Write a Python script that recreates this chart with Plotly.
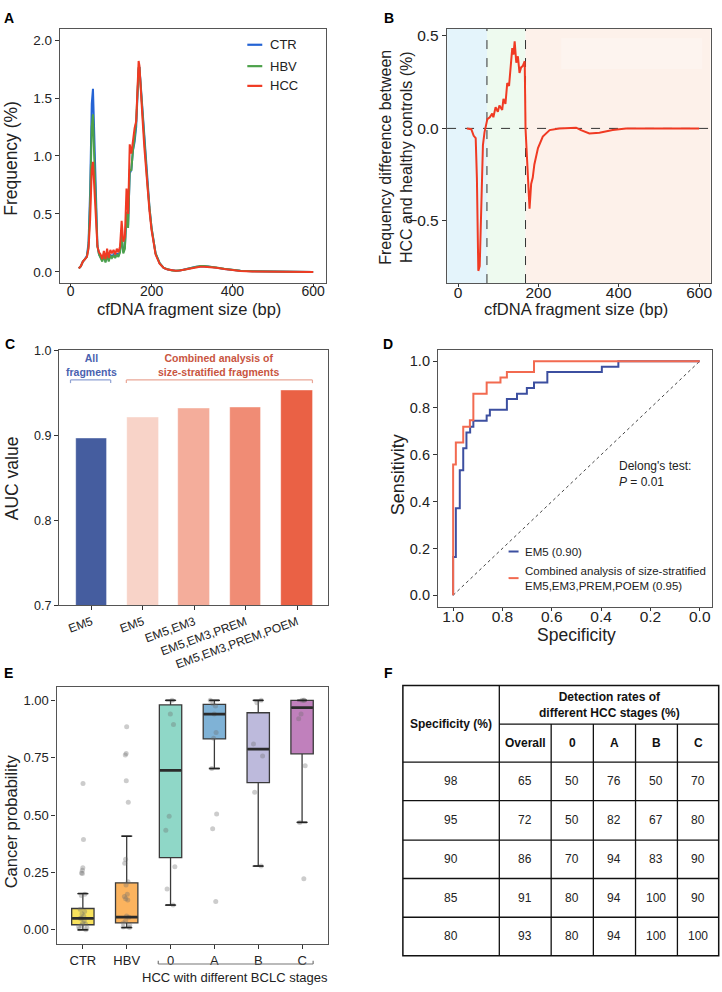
import plotly.graph_objects as go

W, H = 722, 992
FONT = "Liberation Sans, Arial, Helvetica, sans-serif"

# ---------------- DATA ----------------
# Panel A: fragment size distributions (%)
size_bp = [20, 25, 30, 35, 40, 44, 48, 52, 55, 58, 62, 66, 70, 74, 78, 82, 86, 90, 94, 98,
           102, 106, 110, 114, 118, 122, 126, 130, 134, 138, 142, 146, 150, 154, 158, 162, 166, 168, 170, 174,
           178, 182, 186, 190, 195, 200, 210, 220, 230, 240, 250, 260, 270, 280, 290, 300, 310, 320, 330, 340,
           350, 360, 380, 400, 420, 450, 500, 550, 600]
freq_ctr = [0.03, 0.05, 0.09, 0.11, 0.14, 0.25, 0.70, 1.45, 1.58, 1.15, 0.55, 0.23, 0.15, 0.12, 0.10, 0.15, 0.09, 0.16, 0.10, 0.15,
            0.13, 0.15, 0.13, 0.16, 0.14, 0.18, 0.30, 0.17, 0.22, 0.48, 0.40, 0.85, 0.88, 1.05, 1.12, 1.25, 1.62, 1.75, 1.77, 1.58,
            1.35, 1.13, 0.92, 0.75, 0.55, 0.38, 0.16, 0.075, 0.035, 0.02, 0.012, 0.01, 0.012, 0.018, 0.027, 0.036, 0.044, 0.048, 0.048, 0.046,
            0.043, 0.037, 0.026, 0.016, 0.01, 0.005, 0.002, 0.001, 0.0]
freq_hbv = [0.03, 0.05, 0.09, 0.11, 0.13, 0.22, 0.60, 1.25, 1.36, 1.00, 0.50, 0.22, 0.15, 0.12, 0.09, 0.14, 0.08, 0.15, 0.09, 0.14,
            0.12, 0.14, 0.12, 0.15, 0.13, 0.17, 0.32, 0.16, 0.20, 0.52, 0.38, 0.88, 0.88, 1.05, 1.15, 1.30, 1.65, 1.76, 1.76, 1.55,
            1.33, 1.12, 0.92, 0.75, 0.55, 0.38, 0.16, 0.075, 0.035, 0.02, 0.012, 0.01, 0.012, 0.018, 0.028, 0.037, 0.045, 0.05, 0.05, 0.048,
            0.044, 0.038, 0.027, 0.016, 0.01, 0.005, 0.002, 0.001, 0.0]
freq_hcc = [0.03, 0.05, 0.09, 0.11, 0.13, 0.20, 0.45, 0.88, 0.95, 0.75, 0.42, 0.22, 0.17, 0.15, 0.11, 0.18, 0.11, 0.20, 0.12, 0.19,
            0.16, 0.19, 0.15, 0.20, 0.17, 0.22, 0.44, 0.26, 0.30, 0.72, 0.50, 1.10, 1.02, 1.15, 1.24, 1.30, 1.70, 1.82, 1.78, 1.50,
            1.30, 1.08, 0.88, 0.72, 0.52, 0.36, 0.15, 0.07, 0.035, 0.02, 0.012, 0.01, 0.012, 0.018, 0.027, 0.035, 0.042, 0.045, 0.045, 0.043,
            0.04, 0.035, 0.025, 0.015, 0.009, 0.004, 0.002, 0.001, 0.0]
groups_a = ["CTR", "HBV", "HCC"]

# Panel B: frequency difference HCC - controls (%)
diff_bp = [22, 33, 39, 44, 47, 50.5, 54, 58, 62, 66, 69, 73, 79, 85, 88, 93.5, 99, 103, 110, 113,
           118, 122.5, 127, 130, 133, 135, 138, 141, 145, 149, 153, 157, 161, 166, 168, 174, 178, 182, 186, 190,
           199, 211, 228, 252, 294, 306, 327, 352, 385, 418, 600]
diff_val = [0.0, -0.004, -0.04, -0.053, -0.27, -0.77, -0.745, -0.44, -0.09, -0.02, 0.018, 0.05, 0.06, 0.08, 0.06, 0.115, 0.09, 0.124, 0.10, 0.16,
            0.133, 0.245, 0.23, 0.30, 0.363, 0.434, 0.399, 0.47, 0.355, 0.39, 0.30, 0.33, 0.337, 0.363, 0.0, -0.27, -0.434, -0.30, -0.266, -0.195,
            -0.106, -0.044, -0.009, 0.0, 0.004, -0.009, -0.027, -0.023, -0.009, 0.0, 0.0]
region_bounds = [72, 168]

# Panel C: AUC values
auc_labels = ["EM5", "EM5", "EM5,EM3", "EM5,EM3,PREM", "EM5,EM3,PREM,POEM"]
auc_values = [0.896, 0.921, 0.932, 0.933, 0.953]

# Panel D: ROC curves (specificity, sensitivity)
roc_em5_spec = [1.0, 0.989, 0.973, 0.959, 0.946, 0.931, 0.918, 0.864, 0.851, 0.782, 0.741, 0.701, 0.672, 0.618, 0.397, 0.330, 0.0]
roc_em5_sens = [0.0, 0.163, 0.372, 0.534, 0.628, 0.695, 0.720, 0.745, 0.768, 0.792, 0.838, 0.861, 0.885, 0.909, 0.954, 0.976, 1.0]
roc_comb_spec = [1.0, 0.989, 0.959, 0.932, 0.918, 0.864, 0.808, 0.782, 0.672, 0.0]
roc_comb_sens = [0.0, 0.559, 0.652, 0.720, 0.747, 0.861, 0.909, 0.930, 0.954, 1.0]
diag_x = [1.0, 0.0]
diag_y = [0.0, 1.0]

# Panel E: cancer probability boxplots
e_groups = ["CTR", "HBV", "0", "A", "B", "C"]
e_q1 = [0.022, 0.030, 0.315, 0.832, 0.641, 0.767]
e_median = [0.050, 0.055, 0.695, 0.940, 0.787, 0.968]
e_q3 = [0.093, 0.205, 0.980, 0.982, 0.946, 1.000]
e_low = [0.000, 0.010, 0.108, 0.703, 0.278, 0.468]
e_high = [0.158, 0.408, 1.000, 1.000, 1.000, 1.000]
e_points = [
    [0.638, 0.394, 0.27, 0.26, 0.248, 0.245, 0.155, 0.15, 0.09, 0.08, 0.07, 0.06, 0.05, 0.05, 0.04, 0.03, 0.025, 0.02, 0.015, 0.01, 0.005, 0.0],
    [0.885, 0.768, 0.762, 0.65, 0.556, 0.308, 0.29, 0.21, 0.195, 0.155, 0.145, 0.135, 0.13, 0.06, 0.055, 0.04, 0.03, 0.02, 0.012, 0.01],
    [1.0, 0.94, 0.895, 0.495, 0.434, 0.275, 0.178, 0.108],
    [1.0, 0.985, 0.975, 0.94, 0.86, 0.835, 0.703, 0.505, 0.44, 0.123],
    [1.0, 0.99, 0.81, 0.757, 0.60, 0.278],
    [1.0, 1.0, 1.0, 0.94, 0.92, 0.715, 0.468, 0.223],
]

# Panel F: table
tbl_spec = ["98", "95", "90", "85", "80"]
tbl_overall = [65, 72, 86, 91, 93]
tbl_s0 = [50, 50, 70, 80, 80]
tbl_sA = [76, 82, 94, 94, 94]
tbl_sB = [50, 67, 83, 100, 100]
tbl_sC = [70, 80, 90, 90, 100]
tbl_cols = ["Overall", "0", "A", "B", "C"]

# ---------------- helpers ----------------
def fx(p):
    return p / W


def fy(p):
    return 1 - p / H


AX = dict(showline=True, mirror=True, linecolor="#555555", linewidth=1.4, ticks="outside",
          ticklen=4, tickwidth=1, tickcolor="#333333", showgrid=False, zeroline=False,
          tickfont=dict(family=FONT, color="#222222"))

fig = go.Figure()

# ---- Panel A ----
colors_a = ["#2463d4", "#4ca14a", "#f03a23"]
for name, vals, col in zip(groups_a, [freq_ctr, freq_hbv, freq_hcc], colors_a):
    fig.add_trace(go.Scatter(x=size_bp, y=vals, mode="lines", name=name,
                             line=dict(color=col, width=2), xaxis="x", yaxis="y", showlegend=False))

# ---- Panel B ----
fig.add_trace(go.Scatter(x=diff_bp, y=diff_val, mode="lines", line=dict(color="#f03a23", width=2),
                         xaxis="x2", yaxis="y2", showlegend=False))

# ---- Panel C ----
bar_colors = ["#455d9f", "#f8d3c8", "#f4ad9b", "#f08c75", "#ea6145"]
fig.add_trace(go.Bar(x=list(range(len(auc_values))), y=auc_values, width=0.615,
                     marker=dict(color=bar_colors, line=dict(color="rgba(255,255,255,0.55)", width=1)),
                     xaxis="x3", yaxis="y3", showlegend=False))

# ---- Panel D ----
fig.add_trace(go.Scatter(x=diag_x, y=diag_y, mode="lines", line=dict(color="#444444", width=1, dash="dot"),
                         xaxis="x4", yaxis="y4", showlegend=False))
fig.add_trace(go.Scatter(x=roc_em5_spec, y=roc_em5_sens, mode="lines", line=dict(color="#3c4fa0", width=2, shape="vh"),
                         xaxis="x4", yaxis="y4", showlegend=False))
fig.add_trace(go.Scatter(x=roc_comb_spec, y=roc_comb_sens, mode="lines", line=dict(color="#f26a50", width=2, shape="vh"),
                         xaxis="x4", yaxis="y4", showlegend=False))

# ---- Panel E ----
e_colors = ["#f8e25d", "#fbb35e", "#8fd7c7", "#7fb2d6", "#bdbadc", "#c080bc"]
BW = 0.51
for i, g in enumerate(e_groups):
    fig.add_trace(go.Box(x=[i], q1=[e_q1[i]], median=[e_median[i]], q3=[e_q3[i]],
                         lowerfence=[e_low[i]], upperfence=[e_high[i]], width=BW,
                         fillcolor=e_colors[i], line=dict(color="#3a3a3a", width=1.3),
                         boxpoints=False, xaxis="x5", yaxis="y5", showlegend=False, name=g))
for i, g in enumerate(e_groups):
    fig.add_trace(go.Box(x=[i] * len(e_points[i]), y=e_points[i], width=BW, boxpoints="all", jitter=0.5,
                         pointpos=0, fillcolor="rgba(0,0,0,0)", line=dict(color="rgba(0,0,0,0)", width=0),
                         marker=dict(color="rgba(110,110,110,0.35)", size=5),
                         xaxis="x5", yaxis="y5", showlegend=False, name=g))
cap_x, cap_y, med_x, med_y = [], [], [], []
for i in range(len(e_groups)):
    for v in (e_low[i], e_high[i]):
        cap_x += [i - 0.11, i + 0.11, None]
        cap_y += [v, v, None]
    med_x += [i - BW / 2 + 0.01, i + BW / 2 - 0.01, None]
    med_y += [e_median[i], e_median[i], None]
fig.add_trace(go.Scatter(x=cap_x, y=cap_y, mode="lines", line=dict(color="#222222", width=1.6),
                         xaxis="x5", yaxis="y5", showlegend=False))
fig.add_trace(go.Scatter(x=med_x, y=med_y, mode="lines", line=dict(color="#2b2b2b", width=2.8),
                         xaxis="x5", yaxis="y5", showlegend=False))

# ---------------- layout ----------------
def ax(**kw):
    d = dict(AX)
    tf = dict(AX["tickfont"])
    if "tfs" in kw:
        tf["size"] = kw.pop("tfs")
    d["tickfont"] = tf
    d.update(kw)
    return d


layout = dict(
    width=W, height=H, margin=dict(l=0, r=0, t=0, b=0), paper_bgcolor="white", plot_bgcolor="white",
    font=dict(family=FONT, color="#222222"), showlegend=False, bargap=0,
    xaxis=ax(domain=[fx(60), fx(327)], anchor="y", range=[-27, 632], tickvals=[0, 200, 400, 600], tfs=14,
             ticklen=3, ticklabelstandoff=-8),
    yaxis=ax(domain=[fy(280), fy(22)], anchor="x", range=[-0.096, 2.098], tickvals=[0, 0.5, 1, 1.5, 2],
             tickformat=".1f", tfs=13.5),
    xaxis2=ax(domain=[fx(448.3), fx(712.7)], anchor="y2", range=[-27.3, 629], tickvals=[0, 200, 400, 600], tfs=15.5,
              ticklen=3, ticklabelstandoff=-8),
    yaxis2=ax(domain=[fy(280), fy(22)], anchor="x2", range=[-0.836, 0.539], tickvals=[-0.5, 0, 0.5],
              tickformat=".1f", tfs=15.5),
    xaxis3=ax(domain=[fx(59.3), fx(329.3)], anchor="y3", range=[-0.63, 4.61], tickvals=list(range(5)),
              ticktext=auc_labels, tickangle=-20, tfs=12),
    yaxis3=ax(domain=[fy(606.7), fy(348.3)], anchor="x3", range=[0.7, 1.0], tickvals=[0.7, 0.8, 0.9, 1.0],
              tickformat=".1f", tfs=12.5),
    xaxis4=ax(domain=[fx(439.3), fx(714.3)], anchor="y4", range=[1.061, -0.051],
              tickvals=[1.0, 0.8, 0.6, 0.4, 0.2, 0.0], tickformat=".1f", tfs=15.5, ticklen=3, ticklabelstandoff=-8),
    yaxis4=ax(domain=[fy(608.3), fy(348.3)], anchor="x4", range=[-0.049, 1.046],
              tickvals=[0, 0.2, 0.4, 0.6, 0.8, 1.0], tickformat=".1f", tfs=14.5),
    xaxis5=ax(domain=[fx(56.7), fx(329.3)], anchor="y5", range=[-0.6, 5.6], tickvals=list(range(6)),
              ticktext=e_groups, tfs=13),
    yaxis5=ax(domain=[fy(950.7), fy(689.3)], anchor="x5", range=[-0.063, 1.06],
              tickvals=[0, 0.25, 0.5, 0.75, 1.0], tickformat=".2f", tfs=13),
)
fig.update_layout(**layout)

shapes = []
ann = []


def text(x, y, s, size, bold=False, angle=0, color="#222222", xanchor="center"):
    if bold:
        s = "<b>" + s.replace("<br>", "</b><br><b>") + "</b>"
    align = "left" if xanchor == "left" else "center"
    ann.append(dict(x=fx(x), y=fy(y), xref="paper", yref="paper", text=s, showarrow=False,
                    font=dict(family=FONT, size=size, color=color), textangle=angle,
                    xanchor=xanchor, yanchor="middle", align=align))


def pline(x0, y0, x1, y1, color="#000000", width=1.0, dash="solid"):
    shapes.append(dict(type="line", xref="paper", yref="paper", x0=fx(x0), y0=fy(y0), x1=fx(x1), y1=fy(y1),
                       line=dict(color=color, width=width, dash=dash)))


# Panel letters
for lab, x, y in [("A", 9, 11), ("B", 390, 11), ("C", 10, 342), ("D", 389, 342), ("E", 9, 676), ("F", 390, 676)]:
    text(x, y, lab, 14, bold=True, color="#000000")

# Panel A titles & legend
text(11, 153, "Frequency (%)", 17.5, angle=-90)
text(190, 306, "cfDNA fragment size (bp)", 16.5)
for k, (name, col) in enumerate(zip(groups_a, colors_a)):
    yy = [38.3, 60, 80][k]
    pline(248, yy, 263, yy, color=col, width=2.2)
    text(269, yy, name, 13, xanchor="left")

# Panel B backgrounds and guide lines
b_x0, b_x1 = -27.3, 629
bg = [(b_x0, region_bounds[0], "#e4f4fb"), (region_bounds[0], region_bounds[1], "#eefaef"),
      (region_bounds[1], b_x1, "#fdf1ea")]
for a, b, c in bg:
    shapes.append(dict(type="rect", xref="x2", yref="y2 domain", x0=a, x1=b, y0=0, y1=1,
                       fillcolor=c, line=dict(width=0), layer="below"))
shapes.append(dict(type="rect", xref="paper", yref="paper", x0=fx(562.7), x1=fx(704), y0=fy(63), y1=fy(31.7),
                   fillcolor="#fdf4ef", line=dict(width=0), layer="below"))
for xb in region_bounds:
    shapes.append(dict(type="line", xref="x2", yref="y2 domain", x0=xb, x1=xb, y0=0, y1=1,
                       line=dict(color="#333333", width=1, dash="dash"), layer="below"))
shapes.append(dict(type="line", xref="x2 domain", yref="y2", x0=0, x1=1, y0=0, y1=0,
                   line=dict(color="#333333", width=1, dash="dash"), layer="below"))
text(397, 152, "Frequency difference between<br>HCC and healthy controls (%)", 16, angle=-90)
text(578, 306, "cfDNA fragment size (bp)", 16.5)

# Panel C
text(12, 478, "AUC value", 17.5, angle=-90)
blue_t, red_t = "#4a62b0", "#c9553f"
text(91.7, 363, "All<br>fragments", 10.5, bold=True, color=blue_t)
text(220, 363, "Combined analysis of<br>size-stratified fragments", 10.5, bold=True, color=red_t)
for x0, x1, c in [(70.7, 111, "#8fa2d3"), (126.7, 313.3, "#eaa797")]:
    pline(x0, 378.3, x1, 378.3, color=c, width=1.2)
    pline(x0, 378.3, x0, 381.5, color=c, width=1.2)
    pline(x1, 378.3, x1, 381.5, color=c, width=1.2)

# Panel D
text(399, 474, "Sensitivity", 18, angle=-90)
text(578, 637, "Specificity", 17.5)
text(619, 474, "Delong's test:<br><i>P</i> = 0.01", 12, xanchor="left")
pline(510, 552.3, 520, 552.3, color="#3c4fa0", width=2)
text(524, 552.3, "EM5 (0.90)", 11.5, xanchor="left")
pline(510, 579.3, 520, 579.3, color="#f26a50", width=2)
text(524, 579.5, "Combined analysis of size-stratified<br>EM5,EM3,PREM,POEM (0.95)", 11.5, xanchor="left")

# Panel E
text(11, 826, "Cancer probability", 16.5, angle=-90)
pline(158.7, 970.7, 314, 970.7, color="#777777", width=1.2)
pline(158.7, 970.7, 158.7, 967.5, color="#777777", width=1.2)
pline(314, 970.7, 314, 967.5, color="#777777", width=1.2)
text(236, 984, "HCC with different BCLC stages", 13)

# Panel F table
cx = [404, 500.7, 552.7, 595, 637.3, 679.3, 720.7]
ry = [688.3, 727.3, 766, 805, 845, 884, 923.3, 962.3]
shapes.append(dict(type="rect", xref="paper", yref="paper", x0=fx(cx[0]), x1=fx(cx[-1]), y0=fy(ry[-1]), y1=fy(ry[0]),
                   line=dict(color="#111111", width=1.5), fillcolor="rgba(0,0,0,0)"))
pline(cx[1], ry[0], cx[1], ry[-1], color="#111111", width=1.3)
for xv in cx[2:6]:
    pline(xv, ry[1], xv, ry[-1], color="#111111", width=1.3)
pline(cx[1], ry[1], cx[-1], ry[1], color="#111111", width=1.3)
for yv in ry[2:7]:
    pline(cx[0], yv, cx[-1], yv, color="#111111", width=1.3)

text((cx[0] + cx[1]) / 2, (ry[0] + ry[2]) / 2, "Specificity (%)", 12, bold=True, color="#111111")
text((cx[1] + cx[-1]) / 2, (ry[0] + ry[1]) / 2, "Detection rates of<br>different HCC stages (%)", 12, bold=True,
     color="#111111")
for j, cname in enumerate(tbl_cols):
    text((cx[j + 1] + cx[j + 2]) / 2, (ry[1] + ry[2]) / 2, cname, 12, bold=True, color="#111111")
cols_data = [tbl_spec, tbl_overall, tbl_s0, tbl_sA, tbl_sB, tbl_sC]
for r in range(5):
    ycen = (ry[r + 2] + ry[r + 3]) / 2
    for c, col in enumerate(cols_data):
        text((cx[c] + cx[c + 1]) / 2, ycen, str(col[r]), 12, color="#222222")

fig.update_layout(shapes=shapes, annotations=ann)
fig.write_html("out.html")
